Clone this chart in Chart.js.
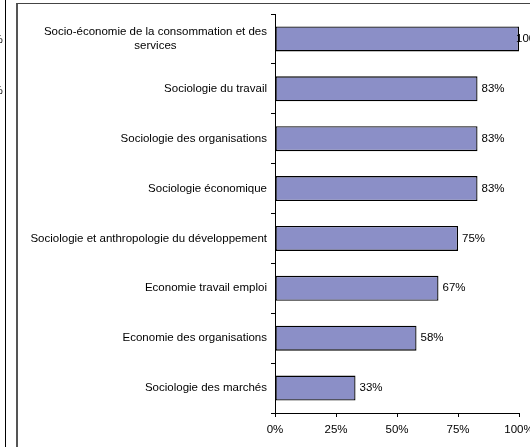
<!DOCTYPE html>
<html>
<head>
<meta charset="utf-8">
<script src="https://cdn.jsdelivr.net/npm/chart.js@4/dist/chart.umd.min.js"></script>
<style>
  html, body { margin: 0; padding: 0; background: #fff; }
  #page { position: relative; width: 530px; height: 447px; overflow: hidden; }
  #voisin { position: absolute; left: 0; top: 0; width: 5px; height: 447px; border-right: 1px solid #000; }
  #voisin span { position: absolute; left: -7px; font: 11px Arial, "Liberation Sans", sans-serif; color: #000; filter: grayscale(1); }
  #cadre { position: absolute; left: 16px; top: 3px; width: 520px; height: 460px; border-left: 2px solid #555; border-top: 1px solid #444; }
  #graphique { position: absolute; left: 0; top: 0; }
</style>
</head>
<body>
<div id="page">
  <div id="voisin"><span style="top:33px">%</span><span style="top:84px">%</span></div>
  <div id="cadre"></div>
  <canvas id="graphique" width="530" height="447"></canvas>
</div>
<script>
var categories = [
    ['Socio-économie de la consommation et des', 'services'],
    'Sociologie du travail',
    'Sociologie des organisations',
    'Sociologie économique',
    'Sociologie et anthropologie du développement',
    'Economie travail emploi',
    'Economie des organisations',
    'Sociologie des marchés'
];
var valeurs = [100, 83, 83, 83, 75, 67, 58, 33];
var ticksX = [0, 25, 50, 75, 100];

var police = '11.5px Arial, "Liberation Sans", sans-serif';

// étiquettes de l'axe vertical, le libellé sur deux lignes est centré comme dans Excel
var etiquettesY = {
    id: 'etiquettesY',
    afterDraw: function(chart) {
        var ctx = chart.ctx;
        var y = chart.scales.y;
        var droite = y.right - 8;
        ctx.save();
        ctx.font = police;
        ctx.fillStyle = '#000';
        ctx.textBaseline = 'middle';
        categories.forEach(function(cat, i) {
            var py = y.getPixelForTick(i);
            if (Array.isArray(cat)) {
                var large = Math.max.apply(null, cat.map(function(l) { return ctx.measureText(l).width; }));
                ctx.textAlign = 'center';
                var debut = py - (cat.length - 1) * 14 / 2;
                cat.forEach(function(l, j) {
                    ctx.fillText(l, droite - large / 2, debut + j * 14);
                });
            } else {
                ctx.textAlign = 'right';
                ctx.fillText(cat, droite, py);
            }
        });
        ctx.restore();
    }
};

// valeurs en bout de barre
var etiquettesValeurs = {
    id: 'etiquettesValeurs',
    afterDatasetsDraw: function(chart) {
        var ctx = chart.ctx;
        var meta = chart.getDatasetMeta(0);
        ctx.save();
        ctx.font = police;
        ctx.fillStyle = '#000';
        ctx.textAlign = 'left';
        ctx.textBaseline = 'middle';
        meta.data.forEach(function(barre, i) {
            var px = Math.min(barre.x + 4, 516);
            ctx.fillText(valeurs[i] + '%', px, barre.y);
        });
        ctx.restore();
    }
};

document.addEventListener('DOMContentLoaded', function() {
    var ctx = document.getElementById('graphique').getContext('2d');
    var graphique = new Chart(ctx, {
        type: 'bar',
        data: {
            labels: categories,
            datasets: [{
                data: valeurs,
                backgroundColor: '#8b8fc7',
                borderColor: '#000',
                borderWidth: 1.3,
                borderSkipped: false,
                categoryPercentage: 1,
                barPercentage: 0.5
            }]
        },
        options: {
            indexAxis: 'y',
            responsive: false,
            animation: false,
            layout: { padding: { top: 14, right: 11, left: 0, bottom: 0 } },
            plugins: {
                legend: { display: false },
                tooltip: { enabled: false }
            },
            scales: {
                x: {
                    min: 0,
                    max: 100,
                    afterBuildTicks: function(axis) {
                        axis.ticks = ticksX.map(function(v) { return { value: v }; });
                    },
                    afterFit: function(axis) {
                        axis.height = 34;
                        axis.paddingLeft = 0;
                        axis.paddingRight = 0;
                    },
                    grid: { drawOnChartArea: false, drawTicks: true, tickLength: 4, color: '#000' },
                    border: { color: '#000', width: 1 },
                    ticks: {
                        color: '#000',
                        font: { family: 'Arial, "Liberation Sans", sans-serif', size: 11.5 },
                        padding: 6,
                        maxRotation: 0,
                        callback: function(v) { return v + '%'; }
                    }
                },
                y: {
                    afterFit: function(axis) {
                        axis.width = 275;
                        axis.paddingTop = 0;
                        axis.paddingBottom = 0;
                    },
                    grid: { drawOnChartArea: false, drawTicks: true, tickLength: 4, color: '#000', offset: true },
                    border: { color: '#000', width: 1 },
                    ticks: { color: 'rgba(0,0,0,0)', font: { size: 11 } }
                }
            }
        },
        plugins: [etiquettesY, etiquettesValeurs]
    });
});
</script>
</body>
</html>
